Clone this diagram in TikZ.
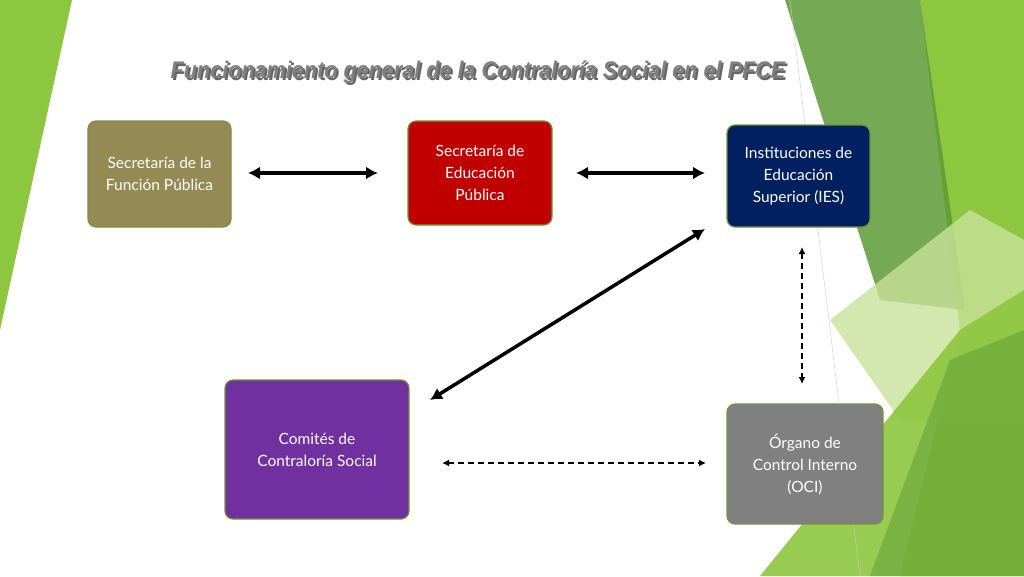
\documentclass[tikz,border=0pt]{standalone}
\usepackage{fontspec}
\setmainfont{Lato}
\newfontfamily\titlefont{Liberation Sans}
\usetikzlibrary{arrows.meta}
\definecolor{olivebox}{HTML}{948A54}
\definecolor{redbox}{HTML}{C00000}
\definecolor{navybox}{HTML}{002060}
\definecolor{purplebox}{HTML}{7030A0}
\definecolor{graybox}{HTML}{808080}
\definecolor{edgegreen}{HTML}{77933C}
\definecolor{g1}{HTML}{8DC63F}
\definecolor{g2}{HTML}{5E9A36}
\definecolor{g3}{HTML}{C9E29A}
\definecolor{titlegray}{HTML}{7F7F7F}
\begin{document}
\begin{tikzpicture}[x=1pt,y=-1pt,
  box/.style={draw=edgegreen,line width=1.2pt,rounded corners=8pt,text=white,align=center,font=\fontsize{15.5}{22}\selectfont,inner sep=0pt},
  solidarrow/.style={line width=3.5pt,{Latex[length=12pt,width=13pt]}-{Latex[length=12pt,width=13pt]}},
  dasharrow/.style={line width=1.5pt,dashed,dash pattern=on 6pt off 4pt,{Latex[length=7pt,width=7pt]}-{Latex[length=7pt,width=7pt]}}]
\useasboundingbox (0,0) rectangle (1024,576);
\fill[white] (0,0) rectangle (1024,576);
\fill[g1] (0,0) -- (72,0) -- (0,330) -- cycle;
\fill[g1] (920,0) -- (1024,0) -- (1024,576) -- (900,576) -- (960,330) -- cycle;
\fill[g2,opacity=0.85] (785,0) -- (920,0) -- (965,310) -- (880,300) -- cycle;
\fill[g3,opacity=0.8] (830,320) -- (970,210) -- (1024,240) -- (1024,420) -- (900,420) -- cycle;
\fill[g1,opacity=0.9] (760,576) -- (960,330) -- (1024,290) -- (1024,576) -- cycle;
\fill[g2,opacity=0.5] (870,576) -- (950,360) -- (1024,330) -- (1024,576) -- cycle;
\draw[gray!40] (790,0) -- (860,576);
\node[font=\titlefont\bfseries\itshape\fontsize{24}{28}\selectfont,text=black!60] at (480,74) {\scalebox{0.9}[1]{Funcionamiento general de la Contraloría Social en el PFCE}};
\node[font=\titlefont\bfseries\itshape\fontsize{24}{28}\selectfont,text=titlegray] (title) at (478,72) {\scalebox{0.9}[1]{Funcionamiento general de la Contraloría Social en el PFCE}};
\node[box,fill=olivebox,minimum width=143pt,minimum height=106pt] (sfp) at (159.5,174) {Secretaría de la\\Función Pública};
\node[box,fill=redbox,minimum width=144pt,minimum height=104pt] (sep) at (480,173) {Secretaría de\\Educación\\Pública};
\node[box,fill=navybox,minimum width=143pt,minimum height=102pt] (ies) at (798.5,176) {Instituciones de\\Educación\\Superior (IES)};
\node[box,fill=purplebox,minimum width=184pt,minimum height=139pt] (ccs) at (317,449.5) {Comités de\\Contraloría Social};
\node[box,fill=graybox,minimum width=156pt,minimum height=120pt] (oci) at (805,464) {Órgano de\\Control Interno\\(OCI)};
\coordinate (a1) at (248,173); \coordinate (a2) at (378,173);
\coordinate (b1) at (576,173); \coordinate (b2) at (705,173);
\coordinate (c1) at (705,229); \coordinate (c2) at (430,400);
\coordinate (d1) at (802,247); \coordinate (d2) at (802,384);
\coordinate (e1) at (442,463); \coordinate (e2) at (706,463);
\draw[solidarrow] (a1) -- (a2);
\draw[solidarrow] (b1) -- (b2);
\draw[solidarrow] (c1) -- (c2);
\draw[dasharrow] (d1) -- (d2);
\draw[dasharrow] (e1) -- (e2);
\end{tikzpicture}
\end{document}
